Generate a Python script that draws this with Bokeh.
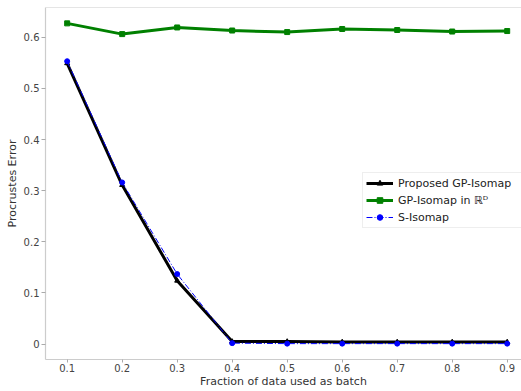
from bokeh.plotting import figure
from bokeh.models import Range1d, FixedTicker, Legend, LegendItem, Span
from bokeh.embed import file_html
from bokeh.resources import INLINE

fractions = [0.1, 0.2, 0.3, 0.4, 0.5, 0.6, 0.7, 0.8, 0.9]
proposed = [0.549, 0.311, 0.124, 0.005, 0.005, 0.004, 0.004, 0.004, 0.004]
gp_rd = [0.627, 0.606, 0.619, 0.613, 0.610, 0.616, 0.614, 0.611, 0.612]
s_isomap = [0.553, 0.316, 0.137, 0.002, 0.001, 0.001, 0.001, 0.001, 0.001]
x_ticks = [0.1, 0.2, 0.3, 0.4, 0.5, 0.6, 0.7, 0.8, 0.9]
y_ticks = [0.0, 0.1, 0.2, 0.3, 0.4, 0.5, 0.6]

Y_TOP = 0.658
p = figure(frame_width=476, frame_height=352, output_backend="svg", toolbar_location=None,
           x_range=Range1d(0.0606, 0.926), y_range=Range1d(-0.030, Y_TOP),
           min_border_left=45, min_border_right=0, min_border_top=7, min_border_bottom=0)
p.background_fill_color = "white"
p.border_fill_color = "white"
p.outline_line_color = None
p.xgrid.visible = False
p.ygrid.visible = False

for ax in (p.xaxis[0], p.yaxis[0]):
    ax.axis_line_color = "#cccccc"
    ax.axis_line_width = 1.2
    ax.major_tick_line_color = "#aaaaaa"
    ax.major_tick_out = 4
    ax.major_tick_in = 0
    ax.minor_tick_line_color = None
    ax.major_label_text_font = "DejaVu Sans"
    ax.major_label_text_font_size = "10px"
    ax.major_label_text_color = "#444444"
    ax.axis_label_text_font = "DejaVu Sans"
    ax.axis_label_text_font_size = "11px"
    ax.axis_label_text_font_style = "normal"
    ax.axis_label_text_color = "#333333"
    ax.major_label_standoff = 3
    ax.axis_label_standoff = 2

p.yaxis.major_label_standoff = 2
p.xaxis.major_tick_out = 3
p.xaxis.major_label_standoff = 1
p.xaxis.axis_label_standoff = 0

p.add_layout(Span(location=Y_TOP, dimension="width", line_color="#cccccc", line_width=1.2))

p.xaxis.ticker = FixedTicker(ticks=x_ticks)
p.yaxis.ticker = FixedTicker(ticks=y_ticks)
p.xaxis.axis_label = "Fraction of data used as batch"
p.yaxis.axis_label = "Procrustes Error"

l1 = p.line(fractions, proposed, line_color="black", line_width=3)
m1 = p.scatter(fractions, proposed, marker="triangle", size=5, color="black")
l2 = p.line(fractions, gp_rd, line_color="green", line_width=3)
m2 = p.scatter(fractions, gp_rd, marker="square", size=5, color="green")
l3 = p.line(fractions, s_isomap, line_color="blue", line_width=1, line_dash="6 2 1 2")
m3 = p.scatter(fractions, s_isomap, marker="circle", size=5, color="blue")

legend = Legend(items=[
    LegendItem(label="Proposed GP-Isomap", renderers=[l1, m1]),
    LegendItem(label="GP-Isomap in \u211d\u1d30", renderers=[l2, m2]),
    LegendItem(label="S-Isomap", renderers=[l3, m3]),
], location=(317, 131))
legend.label_text_font = "DejaVu Sans"
legend.label_text_font_size = "11px"
legend.label_text_color = "#222222"
legend.glyph_width = 27
legend.glyph_height = 14
legend.label_height = 14
legend.label_width = 125
legend.label_standoff = 5
legend.spacing = 3
legend.padding = 3
legend.margin = 0
legend.border_line_color = "#dddddd"
legend.border_line_width = 1
legend.background_fill_alpha = 0.85
p.add_layout(legend, "center")

open("out.html", "w").write(file_html(p, INLINE))
